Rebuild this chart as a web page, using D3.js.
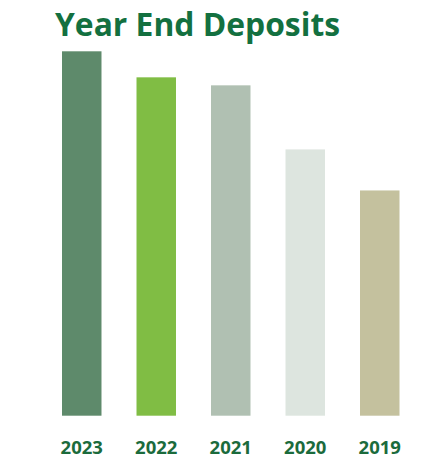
<!DOCTYPE html>
<html>
<head>
<meta charset="utf-8">
<script src="https://cdn.jsdelivr.net/npm/d3@7"></script>
<style>
  html, body { margin: 0; padding: 0; background: #fff; }
  svg { display: block; }
</style>
</head>
<body>
<svg id="chart" width="426" height="459"></svg>
<script>
// Year-end deposit totals (relative units), newest first
const years = ["2023", "2022", "2021", "2020", "2019"];
const deposits = [364, 338, 330, 266, 225];
const barColors = ["#5e8a6b", "#80bd44", "#b0c0b2", "#dde5df", "#c4c19e"];

const svg = d3.select("#chart");
const baseY = 415.7;

const x = d3.scaleBand()
  .domain(years)
  .range([62, 399.5])
  .paddingInner(0.47)
  .paddingOuter(0);

const y = d3.scaleLinear()
  .domain([0, 364])
  .range([baseY, 51.3]);

// Title
svg.append("text")
  .attr("x", 55)
  .attr("y", 36)
  .attr("font-family", "'Open Sans', sans-serif")
  .attr("font-weight", "bold")
  .attr("font-size", 32)
  .attr("fill", "#137040")
  .attr("textLength", 285)
  .attr("lengthAdjust", "spacingAndGlyphs")
  .text("Year End Deposits");

// Bars
svg.append("g")
  .selectAll("rect")
  .data(years)
  .join("rect")
  .attr("x", d => x(d))
  .attr("width", x.bandwidth())
  .attr("y", (d, i) => y(deposits[i]))
  .attr("height", (d, i) => baseY - y(deposits[i]))
  .attr("fill", (d, i) => barColors[i]);

// Year labels
const axis = d3.axisBottom(x).tickSize(0).tickPadding(0);
const gx = svg.append("g")
  .attr("transform", "translate(0,454)")
  .call(axis);
gx.select(".domain").remove();
gx.selectAll("text")
  .attr("dy", 0)
  .attr("y", 0)
  .attr("font-family", "'Open Sans', sans-serif")
  .attr("font-weight", "bold")
  .attr("font-size", 18.5)
  .attr("fill", "#1b6b3c");
</script>
</body>
</html>
